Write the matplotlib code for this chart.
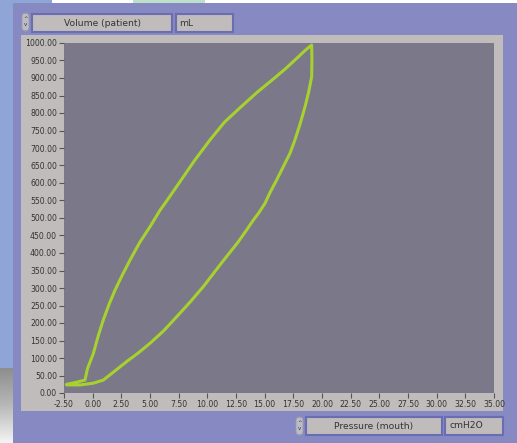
import matplotlib
matplotlib.use("Agg")
import matplotlib.pyplot as plt
from matplotlib.patches import Rectangle, FancyBboxPatch
import numpy as np

# loop data: pressure (cmH2O) vs volume (mL)
pressure = [-2.26, -1.5, -0.67, -0.45, 0.06, 0.5, 0.93, 1.45, 1.95, 2.6, 3.26,
            4.1, 5.0, 5.87, 6.46, 7.62, 8.9, 10.23, 11.5, 12.85, 14.3, 15.75,
            16.8, 17.79, 18.5, 19.01, 19.1,
            19.12, 19.1, 18.85, 18.52, 18.1, 17.64, 17.21, 16.6, 16.05, 15.5,
            15.03, 14.45, 14.01, 13.43, 12.7, 11.2, 9.65, 8.5, 7.33, 6.2, 5.0,
            4.0, 2.97, 1.9, 0.93, 0.06, -1.1, -2.26]
volume = [25, 30, 37, 70, 113, 165, 209, 255, 294, 338, 380,
          430, 475, 522, 549, 604, 665, 723, 774, 815, 858, 897,
          926, 956, 978, 992, 994,
          950, 904, 862, 818, 770, 723, 685, 645, 609, 575,
          542, 513, 494, 466, 432, 370, 304, 260, 218, 178, 142,
          115, 90, 62, 37, 28, 23, 23]
xticks = np.arange(-2.5, 35.01, 2.5)
yticks = np.arange(0, 1000.01, 50)

W, H = 517, 443
fig = plt.figure(figsize=(W / 100, H / 100), dpi=100)
fig.patch.set_facecolor("white")


def box(x0, y0, x1, y1, fc, ec="none", lw=0, z=0):
    # pixel coords (origin top-left) -> figure fraction
    r = Rectangle((x0 / W, 1 - y1 / H), (x1 - x0) / W, (y1 - y0) / H,
                  transform=fig.transFigure, facecolor=fc, edgecolor=ec,
                  linewidth=lw, zorder=z)
    fig.add_artist(r)


# desktop bits around the panel
box(0, 0, 52, 3, "#8fa5d6")
box(133, 0, 205, 3, "#bde0c8")
box(0, 3, 13, 443, "#8fa5d6")
grad = np.linspace(0, 1, 80)[:, None]
gax = fig.add_axes([0, 0, 13 / W, (443 - 368) / H])
gax.imshow(grad, aspect="auto", cmap=matplotlib.colors.LinearSegmentedColormap.from_list(
    "g", ["#8e8e8e", "#b8b8b8", "#f4f4f4"]), extent=[0, 1, 0, 1])
gax.axis("off")

# panel + frame
box(13, 3, 517, 443, "#8789c2")
box(21, 35, 503, 411, "#c0bcbb")

# header / footer controls
ctrl_fc = "#c0bcbb"
ctrl_ec = "#6b6db3"
box(32, 14, 172, 32, ctrl_fc, ctrl_ec, 1.5, 2)
box(176, 14, 233, 32, ctrl_fc, ctrl_ec, 1.5, 2)
box(306, 417, 442, 435, ctrl_fc, ctrl_ec, 1.5, 2)
box(445, 417, 503, 435, ctrl_fc, ctrl_ec, 1.5, 2)
for sx, sy in [(22, 13), (296, 417)]:
    sp = FancyBboxPatch((sx / W, 1 - (sy + 18) / H), 7 / W, 18 / H,
                        boxstyle="round,pad=0,rounding_size=0.008",
                        transform=fig.transFigure, facecolor="#bdbcc4",
                        edgecolor="#9a9ab0", linewidth=0.6, zorder=3)
    fig.add_artist(sp)
    fig.text((sx + 3.5) / W, 1 - (sy + 6) / H, "^", fontsize=4, ha="center",
             va="center", color="#333333", zorder=4)
    fig.text((sx + 3.5) / W, 1 - (sy + 12) / H, "v", fontsize=4, ha="center",
             va="center", color="#333333", zorder=4)

tc = "#333333"
fig.text(102 / W, 1 - 23 / H, "Volume (patient)", fontsize=6.6, ha="center", va="center", color=tc, zorder=5)
fig.text(179 / W, 1 - 23 / H, "mL", fontsize=6.6, ha="left", va="center", color=tc, zorder=5)
fig.text(374 / W, 1 - 426 / H, "Pressure (mouth)", fontsize=6.6, ha="center", va="center", color=tc, zorder=5)
fig.text(449 / W, 1 - 426 / H, "cmH2O", fontsize=6.6, ha="left", va="center", color=tc, zorder=5)

# the plot itself
ax = fig.add_axes([64 / W, (443 - 393) / H, 430 / W, 350 / H])
ax.set_facecolor("#7a7889")
ax.plot(pressure, volume, color="#a6d12e", linewidth=2.2, solid_joinstyle="round",
        solid_capstyle="round")
ax.set_xlim(-2.5, 35)
ax.set_ylim(0, 1000)
ax.set_xticks(xticks)
ax.set_yticks(yticks)
ax.set_xticklabels([f"{v:.2f}" for v in xticks])
ax.set_yticklabels([f"{v:.2f}" for v in yticks])
ax.tick_params(direction="out", length=3.5, width=0.8, color="#555555",
               labelsize=5.6, labelcolor=tc, pad=1.5)
for s in ax.spines.values():
    s.set_visible(False)

fig.savefig("out.png", dpi=100)
